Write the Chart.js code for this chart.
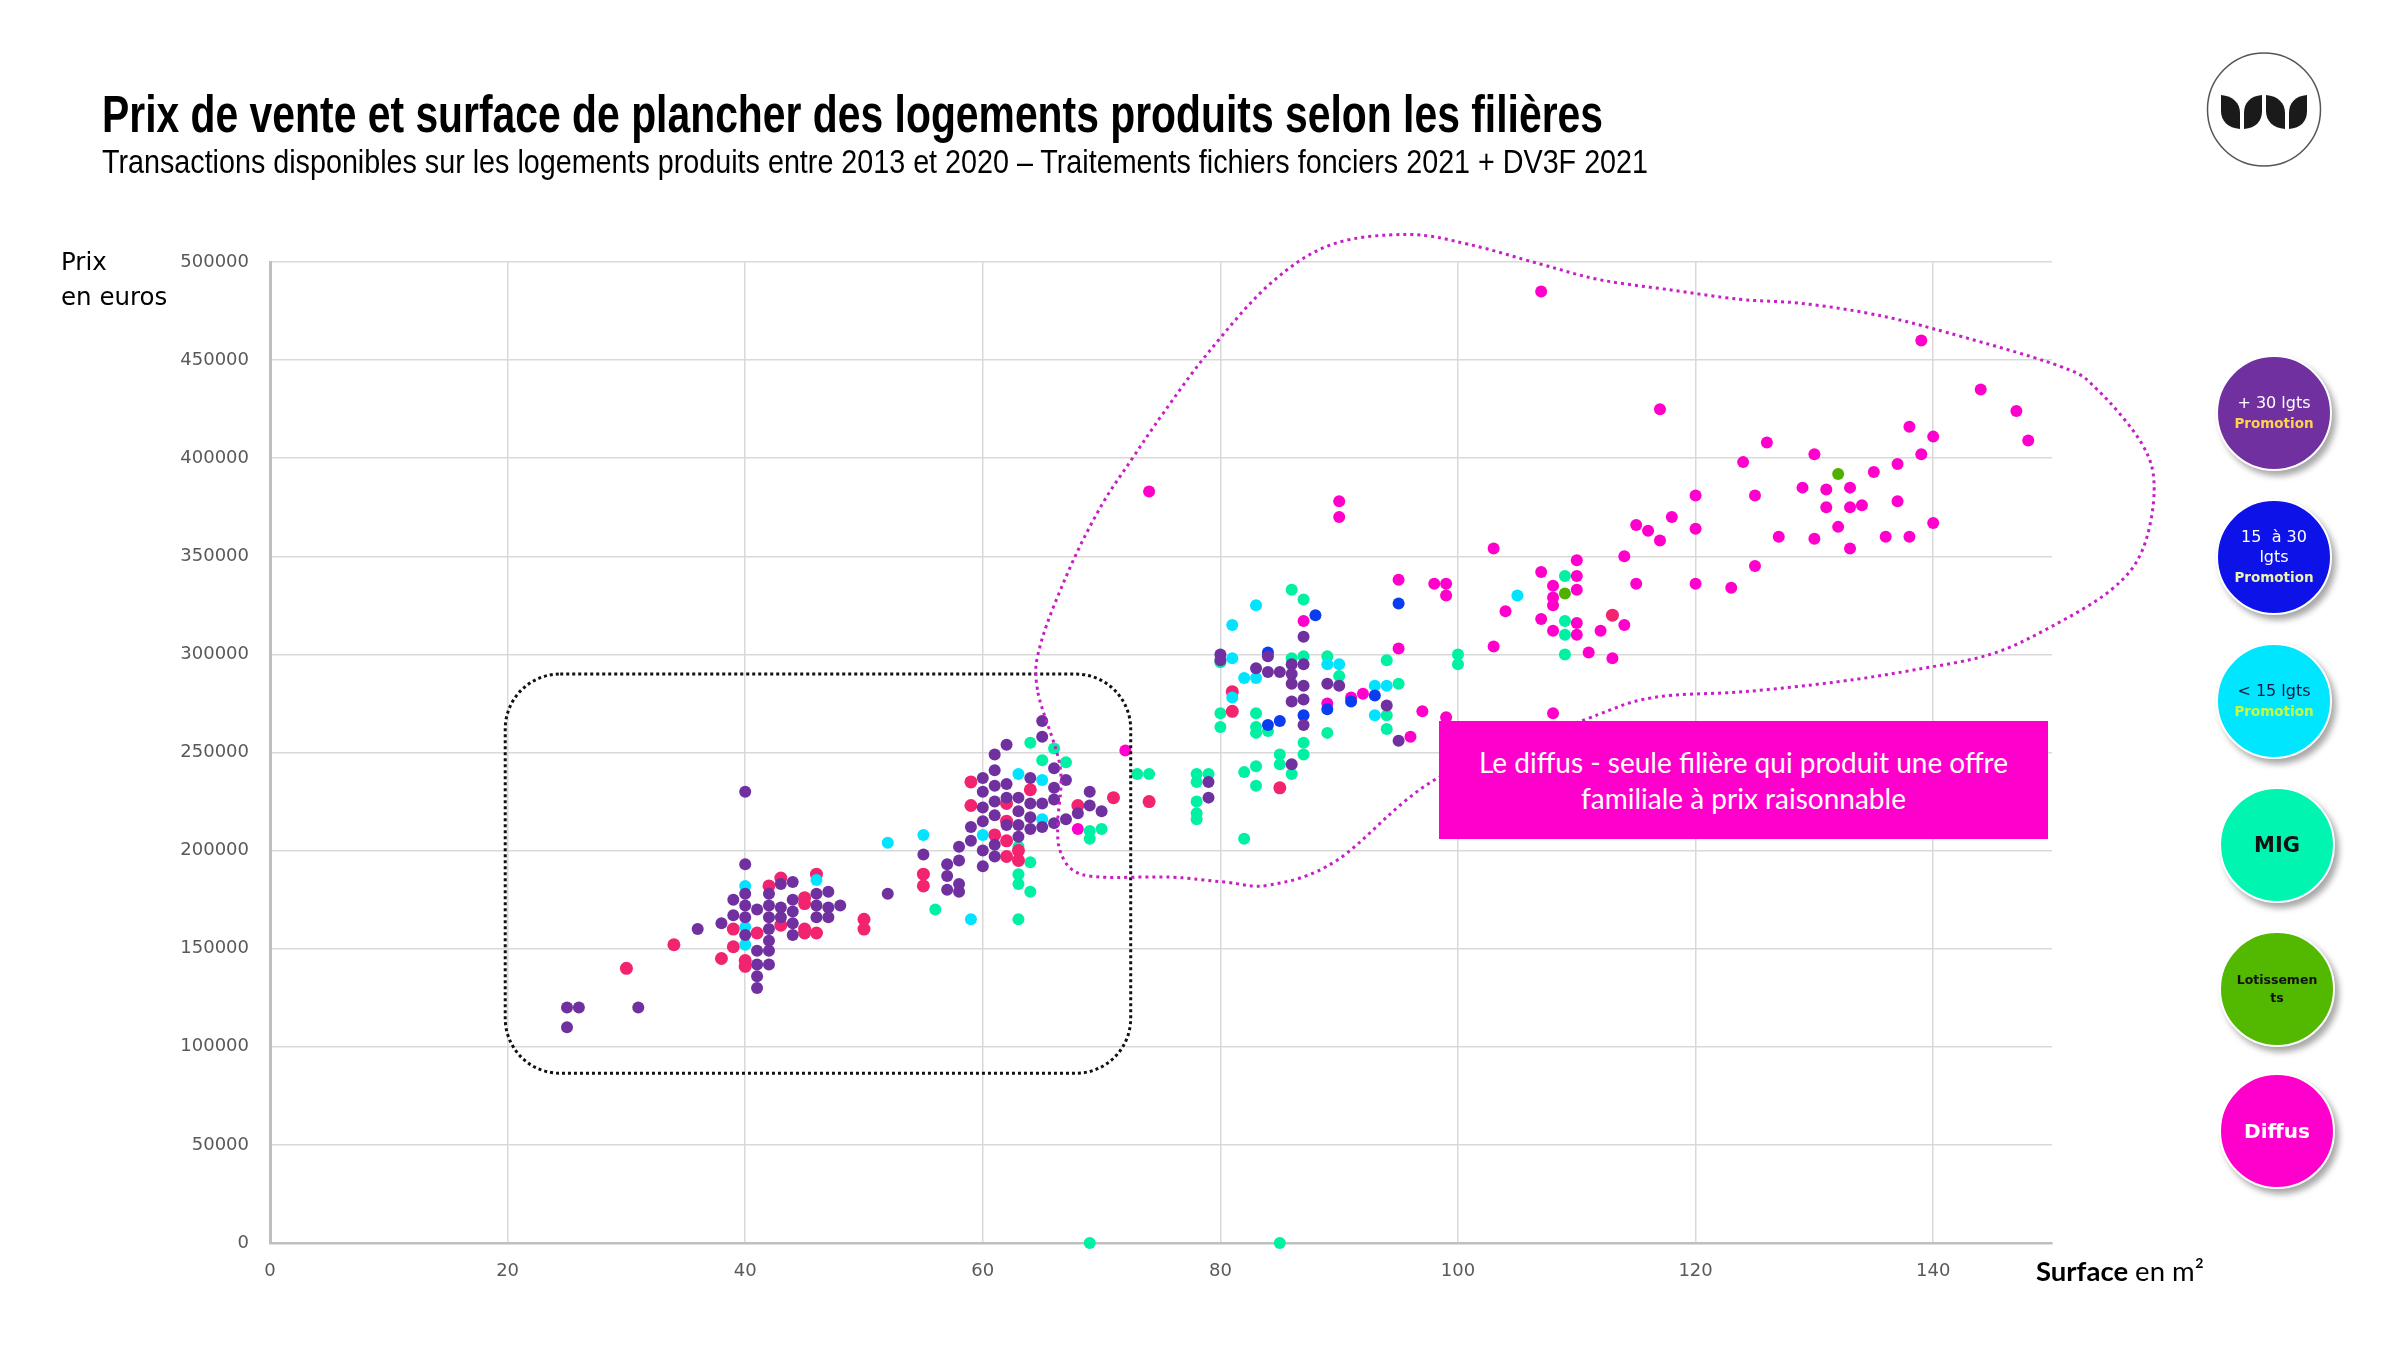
<!DOCTYPE html>
<html lang="fr">
<head>
<meta charset="utf-8">
<title>Prix de vente et surface de plancher des logements</title>
<script src="https://cdn.jsdelivr.net/npm/chart.js@4/dist/chart.umd.min.js"></script>
<style>
  html, body { margin: 0; padding: 0; background: #fff; }
  #page { position: relative; width: 2400px; height: 1350px; overflow: hidden; }
  #graph { position: absolute; left: 0; top: 0; }
  .fit { position: absolute; white-space: nowrap; transform-origin: 0 0; line-height: 1; color: #000; }
  #titre { left: 102px; top: 85px; font: bold 51px "Liberation Sans Narrow", "Liberation Sans", Arial, sans-serif; }
  #soustitre { left: 102px; top: 142px; font: 34px "Liberation Sans Narrow", "Liberation Sans", Arial, sans-serif; }
  #axeY { position: absolute; left: 61px; top: 244px; font: 24.5px "DejaVu Sans", sans-serif; line-height: 35px; color: #000; }
  #axeX { position: absolute; left: 2036px; top: 1254px; font: 27.5px Lato, "Open Sans", sans-serif; color: #000; white-space: nowrap; }
  #axeX b { font-weight: 700; }
  #encart { position: absolute; left: 1439px; top: 721px; width: 609px; height: 118px; background: #ff00cc;
            color: #fff; font: 28px Lato, "Open Sans", sans-serif; line-height: 36px; text-align: center;
            display: flex; flex-direction: column; justify-content: center; }
  .bulle { position: absolute; width: 116px; height: 116px; border-radius: 50%; box-sizing: border-box;
           border: 2px solid #fff; box-shadow: 4px 5px 6px rgba(0,0,0,0.35);
           display: flex; flex-direction: column; justify-content: center; align-items: center;
           font-family: "DejaVu Sans", Verdana, sans-serif; text-align: center; line-height: 20px; }
  .bulle .l { font-size: 16px; }
  .bulle .p { font-weight: bold; font-size: 13.5px; }
  #logo { position: absolute; left: 2200px; top: 45px; }
</style>
</head>
<body>
<div id="page">
  <canvas id="graph" width="2400" height="1350"></canvas>

  <div id="titre" class="fit">Prix de vente et surface de plancher des logements produits selon les filières</div>
  <div id="soustitre" class="fit">Transactions disponibles sur les logements produits entre 2013 et 2020 – Traitements fichiers fonciers 2021 + DV3F 2021</div>

  <div id="axeY">Prix<br>en euros</div>
  <div id="axeX"><b>Surface</b> en m²</div>

  <div id="encart"><div>Le diffus - seule filière qui produit une offre</div><div>familiale à prix raisonnable</div></div>

  <svg id="logo" width="130" height="130" viewBox="0 0 130 130">
    <circle cx="64" cy="64.5" r="56.5" fill="#fff" stroke="#555" stroke-width="1.5"/>
    <path d="M21,50 C33,51 40,58 40,68 L40,84 C28,83 21,76 21,66 Z" fill="#1a1a1a"/>
    <path d="M62,50 C50,51 44,58 44,68 L44,84 C56,83 62,76 62,66 Z" fill="#1a1a1a"/>
    <path d="M66,50 C78,51 85,58 85,68 L85,84 C73,83 66,76 66,66 Z" fill="#1a1a1a"/>
    <path d="M107,50 C95,51 89,58 89,68 L89,84 C101,83 107,76 107,66 Z" fill="#1a1a1a"/>
  </svg>

  <div class="bulle" style="left:2216px; top:355px; background:#7030a0; color:#fff;">
    <div class="l">+ 30 lgts</div><div class="p" style="color:#ffd24d;">Promotion</div>
  </div>
  <div class="bulle" style="left:2216px; top:499px; background:#0d12e8; color:#fff;">
    <div class="l">15&nbsp; à 30</div><div class="l">lgts</div><div class="p" style="color:#ecf5a8;">Promotion</div>
  </div>
  <div class="bulle" style="left:2216px; top:643px; background:#00e6ff; color:#1a1a40;">
    <div class="l">&lt; 15 lgts</div><div class="p" style="color:#c8ff3c;">Promotion</div>
  </div>
  <div class="bulle" style="left:2219px; top:787px; background:#00f5b0; color:#111;">
    <div style="font-size:21px; font-weight:bold;">MIG</div>
  </div>
  <div class="bulle" style="left:2219px; top:931px; background:#52b800; color:#111; line-height:18px;">
    <div style="font-size:12.5px; font-weight:bold;">Lotissemen</div><div style="font-size:12.5px; font-weight:bold;">ts</div>
  </div>
  <div class="bulle" style="left:2219px; top:1073px; background:#ff00cc; color:#fff;">
    <div style="font-size:20px; font-weight:bold;">Diffus</div>
  </div>
</div>

<script>
// axes
const xTicks = [0, 20, 40, 60, 80, 100, 120, 140];
const yTicks = [0, 50000, 100000, 150000, 200000, 250000, 300000, 350000, 400000, 450000, 500000];

// + 30 lgts Promotion
const plus30Surface = [25, 26, 25, 31, 36, 38, 39, 39, 40, 40, 40, 40, 40, 40, 41, 41, 41, 41, 41, 42, 42, 42, 42, 42, 42, 42,
  43, 43, 43, 44, 44, 44, 44, 44, 46, 46, 46, 47, 47, 47, 48, 52,
  55, 57, 57, 57, 58, 58, 58, 58, 59, 59, 60, 60, 60, 60, 60, 60, 61, 61, 61, 61, 61, 61, 61, 62, 62, 62, 62,
  63, 63, 63, 63, 64, 64, 64, 64, 65, 65, 65, 65, 66, 66, 66, 66, 67, 67, 68, 69, 69, 70,
  79, 79, 80, 80, 83, 84, 84, 85, 86, 86, 86, 86, 86, 87, 87, 87, 87, 87, 89, 90, 94, 95];
const plus30Prix = [120000, 120000, 110000, 120000, 160000, 163000, 175000, 167000, 230000, 193000, 178000, 172000, 166000, 157000,
  170000, 149000, 142000, 136000, 130000, 178000, 172000, 166000, 160000, 154000, 149000, 142000,
  183000, 171000, 166000, 184000, 175000, 169000, 163000, 157000, 178000, 172000, 166000, 179000, 171000, 166000, 172000, 178000,
  198000, 193000, 187000, 180000, 202000, 195000, 183000, 179000, 212000, 205000, 192000, 237000, 230000, 222000, 215000, 200000,
  249000, 241000, 233000, 225000, 218000, 203000, 197000, 254000, 234000, 227000, 213000,
  227000, 220000, 213000, 207000, 237000, 224000, 217000, 211000, 266000, 258000, 224000, 212000, 242000, 232000, 226000, 214000,
  236000, 216000, 219000, 230000, 223000, 220000,
  235000, 227000, 300000, 297000, 293000, 299000, 291000, 291000, 295000, 290000, 285000, 276000, 244000,
  309000, 295000, 284000, 277000, 264000, 285000, 284000, 274000, 256000];

// 15 à 30 lgts Promotion
const de15a30Surface = [84, 84, 85, 87, 88, 89, 91, 93, 95];
const de15a30Prix = [301000, 264000, 266000, 269000, 320000, 272000, 276000, 279000, 326000];

// < 15 lgts Promotion
const moins15Surface = [40, 40, 40, 46, 52, 55, 59, 60, 63, 65, 65, 81, 81, 81, 82, 83, 83, 89, 90, 93, 93, 94, 105];
const moins15Prix = [182000, 161000, 152000, 185000, 204000, 208000, 165000, 208000, 239000, 236000, 216000,
  315000, 298000, 278000, 288000, 325000, 288000, 295000, 295000, 284000, 269000, 284000, 330000];

// MIG
const migSurface = [56, 63, 63, 63, 63, 64, 64, 64, 65, 66, 67, 69, 69, 70, 73, 74, 78, 78, 78, 78, 78, 79, 80, 80, 80,
  82, 82, 83, 83, 83, 83, 83, 84, 85, 85, 86, 86, 86, 87, 87, 87, 87, 89, 89, 90, 94, 94, 94, 95, 100, 100,
  109, 109, 109, 109, 69, 85];
const migPrix = [170000, 202000, 188000, 183000, 165000, 255000, 194000, 179000, 246000, 252000, 245000, 210000, 206000, 211000,
  239000, 239000, 239000, 235000, 225000, 219000, 216000, 239000, 270000, 263000, 296000,
  240000, 206000, 270000, 263000, 260000, 243000, 233000, 261000, 249000, 244000, 333000, 298000, 239000,
  328000, 299000, 255000, 249000, 299000, 260000, 289000, 297000, 269000, 262000, 285000, 300000, 295000,
  340000, 317000, 310000, 300000, 0, 0];

// Lotissements
const lotSurface = [109, 132];
const lotPrix = [331000, 392000];

// Diffus
const diffusSurface = [68, 72, 74, 87, 89, 90, 90, 91, 92, 95, 95, 96, 97, 98, 99, 99, 99, 103, 103, 104, 107, 107, 107,
  108, 108, 108, 108, 108, 110, 110, 110, 110, 110, 111, 112, 113, 114, 114, 115, 115, 116, 117, 117, 118,
  120, 120, 120, 123, 124, 125, 125, 126, 127, 129, 130, 130, 131, 131, 132, 133, 133, 133, 134, 135, 136,
  137, 137, 138, 138, 139, 139, 140, 140, 144, 147, 148];
const diffusPrix = [211000, 251000, 383000, 317000, 275000, 378000, 370000, 278000, 280000, 338000, 303000, 258000, 271000,
  336000, 336000, 330000, 268000, 354000, 304000, 322000, 485000, 342000, 318000,
  335000, 329000, 325000, 312000, 270000, 348000, 340000, 333000, 316000, 310000, 301000, 312000, 298000, 350000, 315000,
  366000, 336000, 363000, 425000, 358000, 370000,
  381000, 364000, 336000, 334000, 398000, 381000, 345000, 408000, 360000, 385000, 402000, 359000, 384000, 375000, 365000,
  385000, 375000, 354000, 376000, 393000, 360000,
  397000, 378000, 416000, 360000, 460000, 402000, 411000, 367000, 435000, 424000, 409000];

// points rose-rouge (sans légende)
const rougeSurface = [30, 34, 38, 39, 39, 40, 40, 41, 42, 43, 43, 45, 45, 45, 45, 46, 46, 50, 50,
  55, 55, 59, 59, 61, 62, 62, 62, 62, 63, 63, 64, 68, 71, 74, 81, 81, 85, 113];
const rougePrix = [140000, 152000, 145000, 151000, 160000, 144000, 141000, 158000, 182000, 186000, 162000, 176000, 173000,
  160000, 158000, 188000, 158000, 165000, 160000,
  188000, 182000, 235000, 223000, 208000, 224000, 215000, 205000, 197000, 200000, 195000, 231000, 223000, 227000, 225000,
  281000, 271000, 232000, 320000];

function points(xs, ys) {
  return xs.map((x, i) => ({ x: x, y: ys[i] }));
}

const series = [
  { label: '+ 30 lgts Promotion', data: points(plus30Surface, plus30Prix), color: '#7030a0', r: 6 },
  { label: '15 à 30 lgts Promotion', data: points(de15a30Surface, de15a30Prix), color: '#0a3cf0', r: 6 },
  { label: '< 15 lgts Promotion', data: points(moins15Surface, moins15Prix), color: '#00e4ff', r: 6 },
  { label: 'Lotissements', data: points(lotSurface, lotPrix), color: '#50b000', r: 6 },
  { label: 'Diffus', data: points(diffusSurface, diffusPrix), color: '#ff00cc', r: 6 },
  { label: 'Autres', data: points(rougeSurface, rougePrix), color: '#f2246f', r: 6.5 },
  { label: 'MIG', data: points(migSurface, migPrix), color: '#00f0a4', r: 6 }
];

// zone du diffus (contour pointillé), en m² / euros
const zoneDiffus = [[64.6, 282000], [64.9, 306000], [67.4, 345000], [70.0, 376000], [72.6, 400000], [75.2, 423000],
  [79.0, 454000], [84.2, 489000], [89.4, 509000], [95.8, 514000], [100.9, 509000], [106.9, 499000], [111.9, 491000],
  [117.6, 486000], [123.7, 481000], [128.8, 479000], [134.4, 474000], [140.0, 466000], [150.6, 447000], [153.8, 435000],
  [157.6, 407000], [158.6, 384000], [157.6, 353000], [155.0, 333000], [149.9, 314000], [144.8, 300000], [138.3, 292000],
  [131.9, 286000], [124.1, 281000], [116.4, 278000], [110.8, 267000], [98.3, 237000], [89.8, 195000], [84.2, 182500],
  [80.3, 184000], [75.8, 186500], [69.9, 186500], [67.6, 190000], [66.5, 200000], [66.3, 214000], [66.5, 243000]];
// zone des petits logements
const zonePetits = { x1: 19.8, x2: 72.45, y1: 290000, y2: 86500 };

const contours = {
  id: 'contours',
  afterDatasetsDraw(chart) {
    const ctx = chart.ctx, xs = chart.scales.x, ys = chart.scales.y;
    ctx.save();
    // rectangle arrondi noir
    const l = xs.getPixelForValue(zonePetits.x1), r = xs.getPixelForValue(zonePetits.x2);
    const t = ys.getPixelForValue(zonePetits.y1), b = ys.getPixelForValue(zonePetits.y2);
    const rad = 55;
    ctx.beginPath();
    ctx.moveTo(l + rad, t);
    ctx.lineTo(r - rad, t);
    ctx.arcTo(r, t, r, t + rad, rad);
    ctx.lineTo(r, b - rad);
    ctx.arcTo(r, b, r - rad, b, rad);
    ctx.lineTo(l + rad, b);
    ctx.arcTo(l, b, l, b - rad, rad);
    ctx.lineTo(l, t + rad);
    ctx.arcTo(l, t, l + rad, t, rad);
    ctx.closePath();
    ctx.setLineDash([3, 3]);
    ctx.lineWidth = 3;
    ctx.strokeStyle = '#111';
    ctx.stroke();

    // contour du diffus (Catmull-Rom fermé)
    const p = zoneDiffus.map(d => [xs.getPixelForValue(d[0]), ys.getPixelForValue(d[1])]);
    const n = p.length;
    ctx.beginPath();
    ctx.moveTo(p[0][0], p[0][1]);
    for (let i = 0; i < n; i++) {
      const p0 = p[(i - 1 + n) % n], p1 = p[i], p2 = p[(i + 1) % n], p3 = p[(i + 2) % n];
      ctx.bezierCurveTo(p1[0] + (p2[0] - p0[0]) / 6, p1[1] + (p2[1] - p0[1]) / 6,
                        p2[0] - (p3[0] - p1[0]) / 6, p2[1] - (p3[1] - p1[1]) / 6, p2[0], p2[1]);
    }
    ctx.closePath();
    ctx.setLineDash([3, 4]);
    ctx.lineWidth = 3;
    ctx.strokeStyle = '#c81ec8';
    ctx.stroke();
    ctx.restore();
  }
};

const tickFont = { family: '"DejaVu Sans", sans-serif', size: 18 };

new Chart(document.getElementById('graph'), {
  type: 'scatter',
  data: {
    datasets: series.map(s => ({
      label: s.label,
      data: s.data,
      backgroundColor: s.color,
      borderWidth: 0,
      pointRadius: s.r,
      pointHoverRadius: s.r,
      clip: false
    }))
  },
  options: {
    responsive: false,
    animation: false,
    devicePixelRatio: 1,
    layout: { padding: { left: 0, right: 348, top: 262, bottom: 47 } },
    plugins: { legend: { display: false }, tooltip: { enabled: false } },
    scales: {
      x: {
        type: 'linear', min: 0, max: 150,
        afterFit: s => { s.height = 60; },
        afterBuildTicks: s => { s.ticks = xTicks.map(v => ({ value: v })); },
        ticks: { autoSkip: false, maxRotation: 0, padding: 18, color: '#595959', font: tickFont },
        grid: { color: '#d9d9d9', lineWidth: 1.5, drawTicks: false },
        border: { color: '#bfbfbf', width: 2.5 }
      },
      y: {
        type: 'linear', min: 0, max: 500000,
        afterFit: s => { s.width = 270; },
        afterBuildTicks: s => { s.ticks = yTicks.map(v => ({ value: v })); },
        ticks: { padding: 21, color: '#595959', font: tickFont, callback: v => String(v) },
        grid: { color: '#d9d9d9', lineWidth: 1.5, drawTicks: false },
        border: { color: '#bfbfbf', width: 3 }
      }
    }
  },
  plugins: [contours]
});

// titres : ajuster la largeur au modèle
function ajuster(id, largeur) {
  const el = document.getElementById(id);
  const w = el.getBoundingClientRect().width;
  el.style.transform = 'scaleX(' + (largeur / w) + ')';
}
ajuster('titre', 1501);
ajuster('soustitre', 1546);
</script>
</body>
</html>
